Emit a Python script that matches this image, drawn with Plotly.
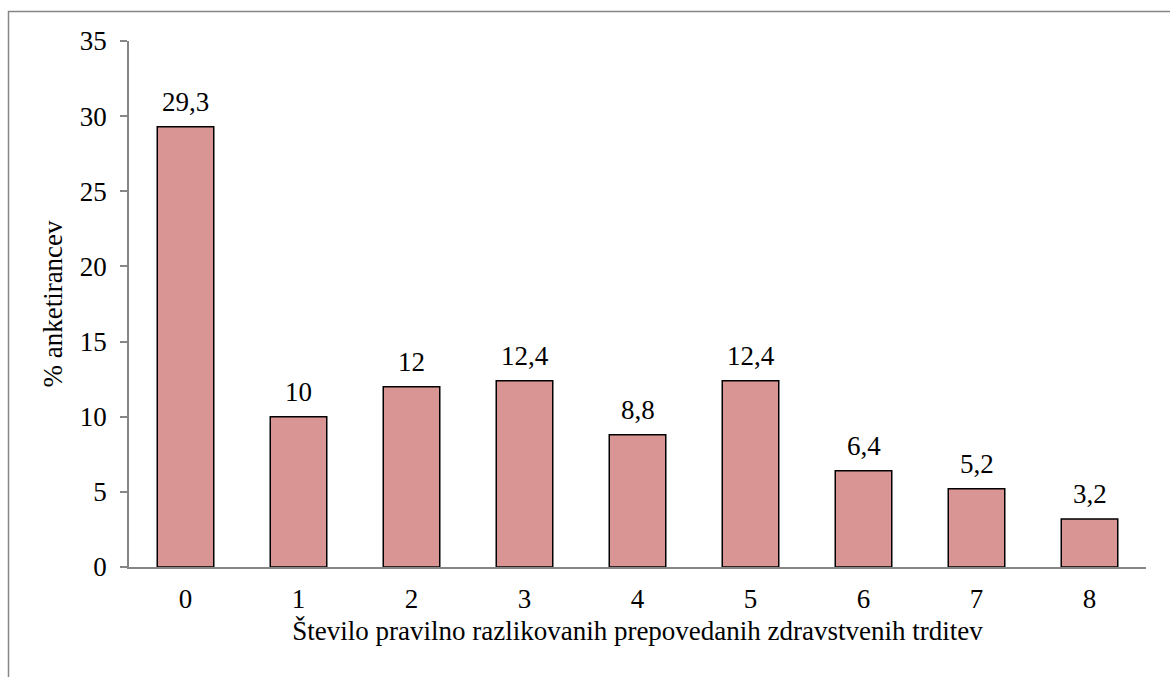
import plotly.graph_objects as go

# Number of correctly identified prohibited health claims vs. share of respondents
categories = ["0", "1", "2", "3", "4", "5", "6", "7", "8"]
percent = [29.3, 10, 12, 12.4, 8.8, 12.4, 6.4, 5.2, 3.2]
y_ticks = [0, 5, 10, 15, 20, 25, 30, 35]

labels = [str(v).replace(".", ",") for v in percent]

FONT = "Times New Roman"
AXIS_GRAY = "#868686"
FS = 27

fig = go.Figure(
    go.Bar(
        x=categories,
        y=percent,
        marker=dict(color="#D99594", line=dict(color="black", width=1.5)),
        hoverinfo="skip",
    )
)

# value labels above each bar
for cat, val, lab in zip(categories, percent, labels):
    fig.add_annotation(
        x=cat,
        y=val,
        text=lab,
        showarrow=False,
        yanchor="bottom",
        yshift=8,
        font=dict(family=FONT, size=FS, color="black"),
    )

W, H = 1170, 677
ml, mr, mt, mb = 129, 24, 41, 110
pw = W - ml - mr
ph = H - mt - mb

fig.update_layout(
    width=W,
    height=H,
    margin=dict(l=ml, r=mr, t=mt, b=mb, pad=0),
    paper_bgcolor="white",
    plot_bgcolor="white",
    bargap=0.5,
    showlegend=False,
    font=dict(family=FONT, size=FS, color="black"),
    xaxis=dict(
        type="category",
        showline=True,
        linecolor=AXIS_GRAY,
        linewidth=1.5,
        ticks="",
        showgrid=False,
        zeroline=False,
        ticklabelstandoff=7,
        tickfont=dict(family=FONT, size=FS, color="black"),
        title=dict(
            text="Število pravilno razlikovanih prepovedanih zdravstvenih trditev",
            font=dict(family=FONT, size=FS, color="black"),
            standoff=8,
        ),
    ),
    yaxis=dict(
        range=[0, 35],
        tickvals=y_ticks,
        showline=True,
        linecolor=AXIS_GRAY,
        linewidth=1.5,
        ticks="outside",
        ticklen=7,
        tickcolor=AXIS_GRAY,
        tickwidth=1.5,
        showgrid=False,
        zeroline=False,
        ticklabelstandoff=8,
        tickfont=dict(family=FONT, size=FS, color="black"),
        title=dict(
            text="% anketirancev",
            font=dict(family=FONT, size=FS, color="black"),
            standoff=9,
        ),
    ),
    shapes=[
        dict(
            type="rect",
            xref="paper",
            yref="paper",
            x0=(8.5 - ml) / pw,
            x1=(W + 20 - ml) / pw,
            y0=-(mb + 20) / ph,
            y1=(H - 11.5 - mb) / ph,
            line=dict(color=AXIS_GRAY, width=1.5),
            fillcolor="rgba(0,0,0,0)",
            layer="below",
        )
    ],
)

fig.write_html("out.html")
